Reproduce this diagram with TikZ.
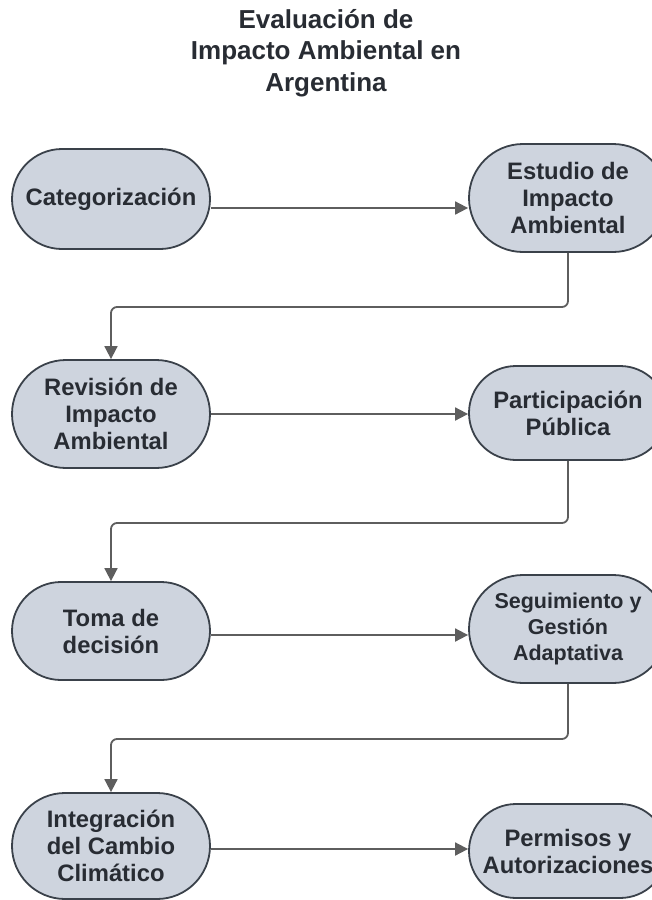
\documentclass[tikz,border=0pt]{standalone}
\usepackage{fontspec}
\setmainfont{Liberation Sans}
\usetikzlibrary{shapes.misc,arrows.meta}
\definecolor{boxfill}{HTML}{CED4DE}
\definecolor{boxline}{HTML}{3A414A}
\definecolor{txt}{HTML}{282C33}
\definecolor{conncol}{HTML}{5E5E5E}
\tikzset{
  stadium/.style={rounded rectangle, draw=boxline, fill=boxfill, line width=1.8pt,
    minimum width=198pt, inner sep=0pt, align=center, text=txt,
    font=\fontsize{23.8}{27}\selectfont\bfseries},
  conn/.style={draw=conncol, line width=1.8pt, rounded corners=6pt,
    -{Triangle[length=13pt,width=13pt]}},
  titletext/.style={align=center, text=txt, font=\fontsize{26}{31.5}\selectfont\bfseries}
}
\begin{document}
\begin{tikzpicture}[x=1pt,y=1pt]
\path[use as bounding box] (0,0) rectangle (652,-900);
\clip (0,0) rectangle (652,-900);
\node[titletext] (title) at (326,-53) {Evaluación de\\Impacto Ambiental en\\Argentina};
\node[stadium, minimum height=100pt] (cat) at (111,-199) {Categorización};
\node[stadium, minimum height=108pt] (est) at (568,-198) {Estudio de\\Impacto\\Ambiental};
\node[stadium, minimum height=108pt] (rev) at (111,-414) {Revisión de\\Impacto\\Ambiental};
\node[stadium, minimum height=94pt] (par) at (568,-413) {Participación\\Pública};
\node[stadium, minimum height=98pt] (toma) at (111,-631) {Toma de\\decisión};
\node[stadium, minimum height=108pt, font=\fontsize{21.5}{26}\selectfont\bfseries] (seg) at (568,-629) {Seguimiento y\\Gestión\\Adaptativa};
\node[stadium, minimum height=106pt] (integ) at (111,-846) {Integración\\del Cambio\\Climático};
\node[stadium, minimum height=94pt] (perm) at (568,-851) {Permisos y\\Autorizaciones};
\coordinate (r1) at (0,-208);
\coordinate (r2) at (0,-414);
\coordinate (r3) at (0,-635);
\coordinate (r4) at (0,-849);
\coordinate (h1) at (0,-307);
\coordinate (h2) at (0,-523);
\coordinate (h3) at (0,-739);
\draw[conn] (cat.east |- r1) -- (est.west |- r1);
\draw[conn] (rev.east |- r2) -- (par.west |- r2);
\draw[conn] (toma.east |- r3) -- (seg.west |- r3);
\draw[conn] (integ.east |- r4) -- (perm.west |- r4);
\draw[conn] (est.south) -- (est.south |- h1) -| (rev.north);
\draw[conn] (par.south) -- (par.south |- h2) -| (toma.north);
\draw[conn] (seg.south) -- (seg.south |- h3) -| (integ.north);
\end{tikzpicture}
\end{document}
